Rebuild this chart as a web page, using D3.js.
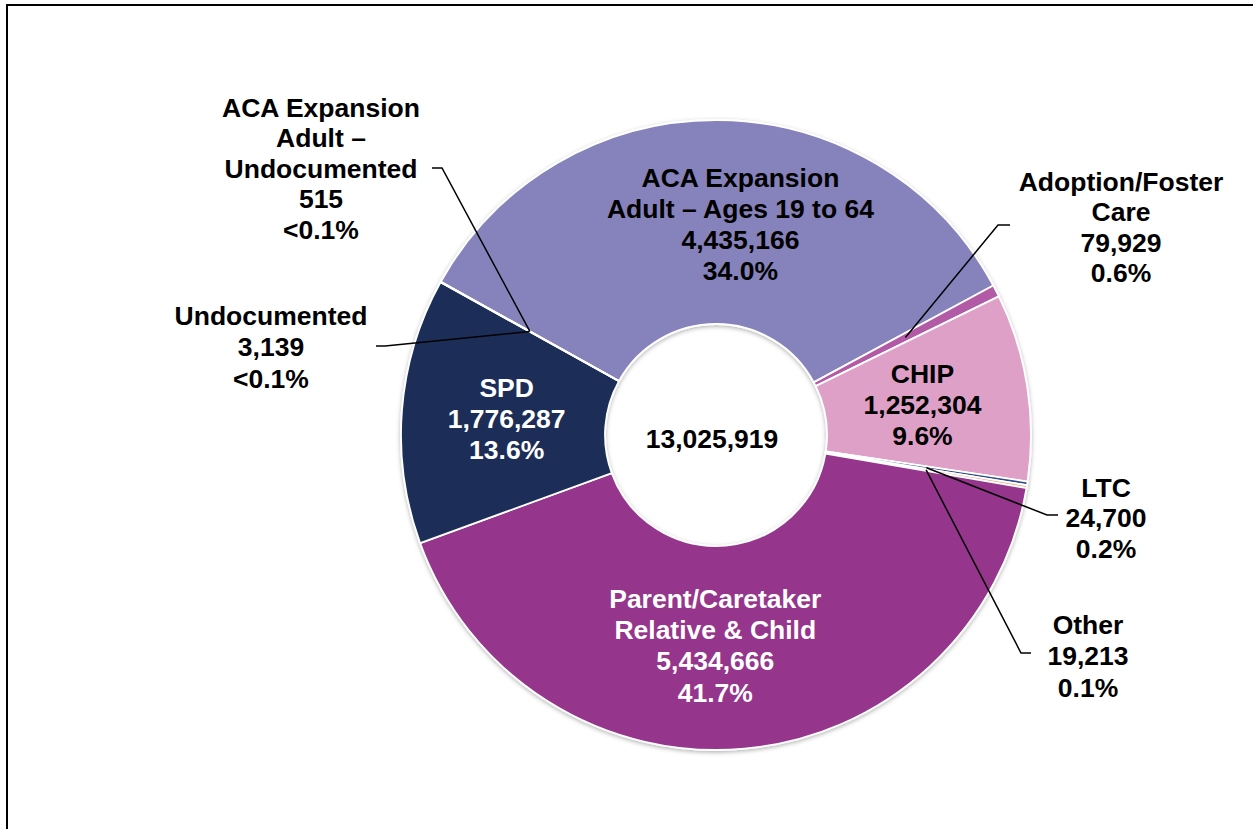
<!DOCTYPE html>
<html>
<head>
<meta charset="utf-8">
<script src="https://cdn.jsdelivr.net/npm/d3@7"></script>
<style>
  body { margin: 0; background: #fff; }
  svg text { font-family: "Liberation Sans", Arial, sans-serif; font-weight: bold; font-size: 26.5px; }
</style>
</head>
<body>
<svg id="chart" width="1253" height="829"></svg>
<script>
// data, clockwise from the top-left boundary
var categories = ["ACA Expansion Adult – Ages 19 to 64", "Adoption/Foster Care", "CHIP", "LTC", "Other",
                  "Parent/Caretaker Relative & Child", "SPD", "Undocumented", "ACA Expansion Adult – Undocumented"];
var values = [4435166, 79929, 1252304, 24700, 19213, 5434666, 1776287, 3139, 515];
var nameLines = [["ACA Expansion", "Adult – Ages 19 to 64"], ["Adoption/Foster", "Care"], ["CHIP"], ["LTC"], ["Other"],
                 ["Parent/Caretaker", "Relative & Child"], ["SPD"], ["Undocumented"], ["ACA Expansion", "Adult –", "Undocumented"]];
var colours = ["#8682bb", "#b35aa6", "#dfa0c8", "#2d4c8c", "#f4b183", "#95368c", "#1a2f58", "#7f7f7f", "#4bacc6"];

var svg = d3.select("#chart");
var cx = 716, cy = 435, rOuter = 315, rInner = 111;
var total = d3.sum(values);
var fmt = d3.format(",");

function pctLabel(v) {
  var p = v / total * 100;
  return p < 0.05 ? "<0.1%" : p.toFixed(1) + "%";
}

// frame
svg.append("rect")
  .attr("x", 7).attr("y", 5).attr("width", 1400).attr("height", 1000)
  .attr("fill", "none").attr("stroke", "#000").attr("stroke-width", 2);

var defs = svg.append("defs");
var f = defs.append("filter").attr("id", "shadow").attr("x", "-10%").attr("y", "-10%").attr("width", "120%").attr("height", "120%");
f.append("feDropShadow").attr("dx", 0).attr("dy", 1.5).attr("stdDeviation", 2)
  .attr("flood-color", "#000").attr("flood-opacity", 0.3);

var start = -60.9 * Math.PI / 180;
var pie = d3.pie().sort(null).value(function(d){ return d; })
  .startAngle(start).endAngle(start + 2 * Math.PI);
var arcs = pie(values);

var arc = d3.arc().innerRadius(rInner).outerRadius(rOuter);

var g = svg.append("g").attr("transform", "translate(" + cx + "," + cy + ")");

g.append("g").attr("filter", "url(#shadow)")
  .selectAll("path")
  .data(arcs)
  .enter()
  .append("path")
  .attr("d", arc)
  .attr("fill", function(d, i){ return colours[i]; })
  .attr("stroke", "#fff")
  .attr("stroke-width", 1.8)
  .attr("stroke-linejoin", "round");

// total in the hole
g.append("text").attr("x", -4).attr("y", 12.5).attr("text-anchor", "middle").text(fmt(total));

function labelLines(i) {
  return nameLines[i].concat([fmt(values[i]), pctLabel(values[i])]);
}

function drawLabel(x, y0, lines, fill, lh) {
  var t = svg.append("text").attr("text-anchor", "middle").style("fill", fill);
  lines.forEach(function(s, k){
    t.append("tspan").attr("x", x).attr("y", y0 + 9.5 + k * lh).text(s);
  });
}

// labels inside the ring: offset from the slice centroid
var inside = {
  "ACA Expansion Adult – Ages 19 to 64": { dx: 23, dy: 2, fill: "#000" },
  "CHIP": { dx: -4, dy: 2, fill: "#000" },
  "Parent/Caretaker Relative & Child": { dx: -20, dy: -2, fill: "#fff" },
  "SPD": { dx: 3, dy: 0, fill: "#fff" }
};
arcs.forEach(function(d, i){
  var o = inside[categories[i]];
  if (!o) return;
  var c = arc.centroid(d);
  var lines = labelLines(i);
  var lh = 31.3;
  var y0 = cy + c[1] + o.dy - (lines.length - 1) * lh / 2;
  drawLabel(cx + c[0] + o.dx, y0, lines, o.fill, lh);
});

// labels outside with leader lines: text position and the two points of the elbow
var outside = {
  "ACA Expansion Adult – Undocumented": { x: 321, y: 107, lh: 30.5, p: [[432, 168], [442, 168]] },
  "Undocumented": { x: 271, y: 315, lh: 31.5, p: [[376, 346], [385, 346]] },
  "Adoption/Foster Care": { x: 1121, y: 181, lh: 30.5, p: [[1010, 225], [998, 225]] },
  "LTC": { x: 1106, y: 487, lh: 30.5, p: [[1058, 515], [1047, 515]] },
  "Other": { x: 1088, y: 624, lh: 31.5, p: [[1031, 653], [1021, 653]] }
};
var line = d3.line();
arcs.forEach(function(d, i){
  var o = outside[categories[i]];
  if (!o) return;
  var c = arc.centroid(d);
  svg.append("path")
    .attr("d", line(o.p.concat([[cx + c[0], cy + c[1]]])))
    .attr("fill", "none").attr("stroke", "#000").attr("stroke-width", 1.5);
  drawLabel(o.x, o.y, labelLines(i), "#000", o.lh);
});
</script>
</body>
</html>
